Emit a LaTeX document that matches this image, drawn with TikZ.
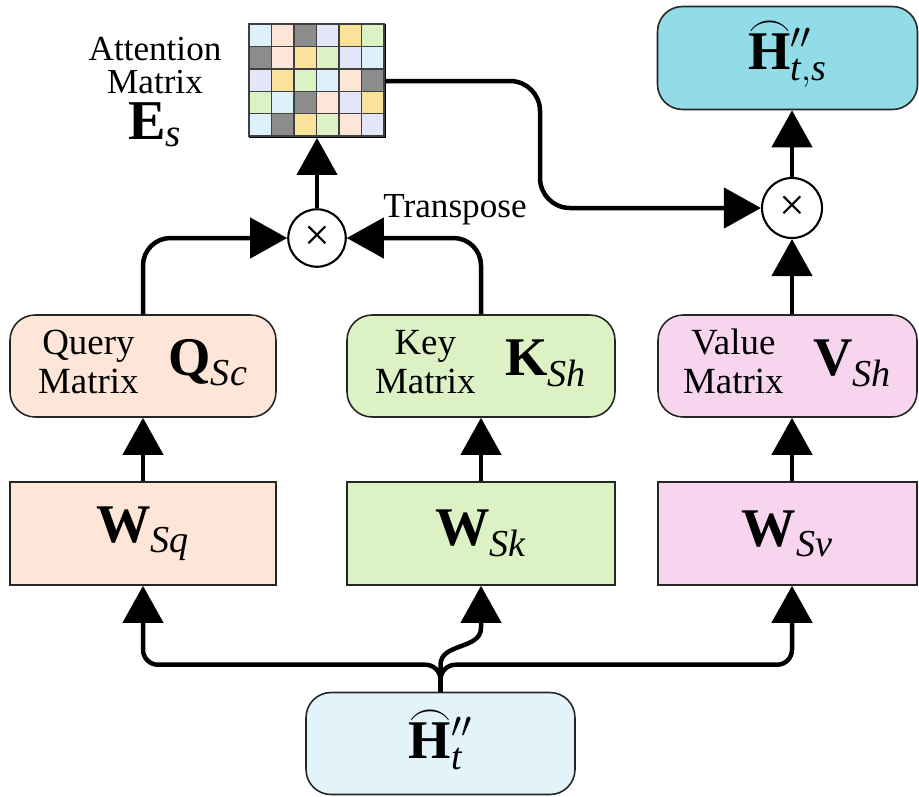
\documentclass[tikz,border=0pt]{standalone}
\usepackage{fontspec}
\setmainfont{Liberation Serif}
\usepackage{amsmath}
\definecolor{attpeach}{RGB}{253,230,216}
\definecolor{attgreen}{RGB}{221,242,196}
\definecolor{attpink}{RGB}{248,213,238}
\definecolor{attcyan}{RGB}{146,220,232}
\definecolor{attsky}{RGB}{226,243,250}
\definecolor{cellblue}{RGB}{221,241,250}
\definecolor{cellgray}{RGB}{140,140,140}
\definecolor{celllav}{RGB}{226,230,248}
\definecolor{cellyel}{RGB}{251,226,154}
\usetikzlibrary{arrows.meta,positioning,calc}
\newcommand{\arcH}{\text{\ooalign{\textbf{H}\cr\hidewidth\smash{\raisebox{0.6em}{$\frown$}}\hidewidth\cr}}}

\begin{document}
\begin{tikzpicture}[x=0.02cm,y=-0.02cm,
  mbox/.style={draw=black!85, line width=0.9pt, rounded corners=0.5cm, minimum height=2.04cm, inner sep=0pt, font=\fontsize{21}{22}\selectfont},
  wbox/.style={draw=black!85, line width=0.9pt, minimum height=2.06cm, inner sep=0pt, font=\fontsize{31}{32}\selectfont},
  mul/.style={circle, draw, fill=white, line width=1.2pt, minimum size=1.15cm, inner sep=0pt, font=\fontsize{26}{26}\selectfont},
  flow/.style={line width=0.09cm, -{Triangle[length=0.74cm,width=0.8cm]}},
  lbl/.style={font=\fontsize{20}{19}\selectfont, align=center}]
  \useasboundingbox (0,0) rectangle (919,796);

  \node[mbox, fill=attsky, minimum width=5.38cm, font=\fontsize{31}{32}\selectfont] (Hin) at (440.5,743.5) {$\arcH''_{\mathit{t}}$};
  \node[wbox, fill=attpeach, minimum width=5.32cm] (WQ) at (143,533.5) {$\mathbf{W}_{\mathit{Sq}}$};
  \node[wbox, fill=attgreen, minimum width=5.36cm] (WK) at (481,533.5) {$\mathbf{W}_{\mathit{Sk}}$};
  \node[wbox, fill=attpink, minimum width=5.18cm] (WV) at (787.5,533.5) {$\mathbf{W}_{\mathit{Sv}}$};
  \node[mbox, fill=attpeach, minimum width=5.32cm] (Q) at (143,366) {\begin{tabular}{@{}c@{}}Query\\Matrix\end{tabular}\hspace{0.6cm}{\fontsize{31}{32}\selectfont$\mathbf{Q}_{\mathit{Sc}}$}};
  \node[mbox, fill=attgreen, minimum width=5.36cm] (K) at (481,366) {\begin{tabular}{@{}c@{}}Key\\Matrix\end{tabular}\hspace{0.6cm}{\fontsize{31}{32}\selectfont$\mathbf{K}_{\mathit{Sh}}$}};
  \node[mbox, fill=attpink, minimum width=5.18cm] (V) at (787.5,366) {\begin{tabular}{@{}c@{}}Value\\Matrix\end{tabular}\hspace{0.6cm}{\fontsize{31}{32}\selectfont$\mathbf{V}_{\mathit{Sh}}$}};
  \node[mbox, fill=attcyan, minimum width=5.2cm, minimum height=2.06cm, font=\fontsize{31}{32}\selectfont] (Hout) at (787.5,58) {$\arcH''_{\mathit{t,s}}$};
  \node[mul] (M1) at (317,238) {×};
  \node[mul, minimum size=1.2cm] (M2) at (792,208) {×};
  \node[lbl] (T) at (455,210) {Transpose};

  \node[draw, line width=1pt, minimum width=2.7cm, minimum height=2.24cm, inner sep=0pt] (E) at (317.5,81) {};
  \foreach \row [count=\r from 0] in {%
    {cellblue,attpeach,cellgray,celllav,cellyel,attgreen},%
    {cellgray,attpeach,cellyel,attgreen,celllav,cellblue},%
    {celllav,cellyel,attgreen,cellblue,attpeach,cellgray},%
    {attgreen,cellblue,cellgray,attpeach,celllav,cellyel},%
    {cellblue,cellgray,cellyel,attgreen,attpeach,celllav}%
  }{
    \foreach \c [count=\k from 0] in \row {
      \filldraw[fill=\c, draw=black!75, line width=0.8pt] ($(E.north west)+(\k*22.5,\r*22.4)$) rectangle ++(22.5,22.4);
    }
  }
  \node[lbl] (Elbl) at (155,92) {Attention\\Matrix\\[4pt]{\fontsize{32}{32}\selectfont$\mathbf{E}_{\mathit{s}}$}};

  \coordinate (J) at ($(Hin.north)+(0,-27)$);
  \coordinate (B) at (540,0);
  \draw[flow, rounded corners=0.3cm] (Hin.north) |- (WQ.south |- J) -- (WQ.south);
  \draw[flow, rounded corners=0.3cm] (Hin.north) |- (J -| M2) -- (WV.south -| M2);
  \draw[flow] (Hin.north) -- (J) .. controls +(0,-22) and +(0,22) .. ($(WK.south)+(0,42)$) -- (WK.south);
  \draw[flow] (WQ) -- (Q);
  \draw[flow] (WK) -- (K);
  \draw[flow] (WV.north -| M2) -- (V.south -| M2);
  \draw[flow, rounded corners=0.55cm] (Q.north) |- (M1.west);
  \draw[flow, rounded corners=0.55cm] (K.north) |- (M1.east);
  \draw[flow] (M1.north) -- (E.south -| M1);
  \draw[flow, rounded corners=0.6cm] (E.east) -| (B |- M2) -- (M2.west);
  \draw[flow] (V.north -| M2) -- (M2.south);
  \draw[flow] (M2.north) -- (Hout.south -| M2);
\end{tikzpicture}
\end{document}
